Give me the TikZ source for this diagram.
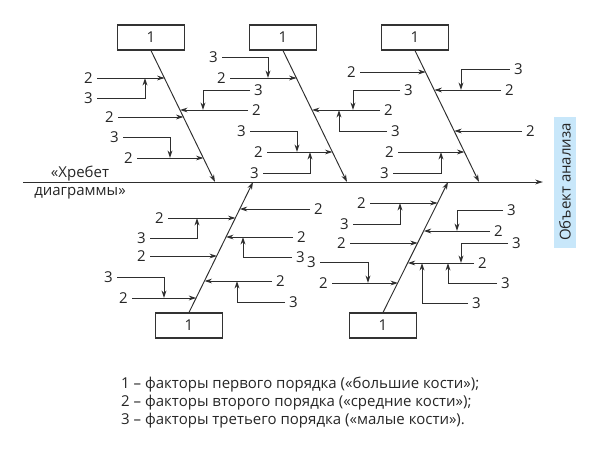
\documentclass[tikz,border=0pt]{standalone}
\usepackage{fontspec}
\setmainfont{Open Sans}
\usetikzlibrary{arrows.meta}
\definecolor{objblue}{RGB}{200,231,250}
\tikzset{
  ln/.style={line width=0.95pt, draw=black!82},
  arr/.style={ln, -{Stealth[length=7.5pt,width=4.8pt]}},
  num/.style={font=\fontsize{15}{18}\selectfont, text=black!85, inner xsep=4pt, inner ysep=0pt},
  bonebox/.style={draw=black!80, line width=1.1pt, minimum width=67pt, minimum height=25pt, inner sep=0pt, font=\fontsize{15}{18}\selectfont, text=black!85},
  txt/.style={font=\fontsize{15}{18}\selectfont, text=black!85, inner sep=0pt}
}
\begin{document}
\begin{tikzpicture}[x=1pt,y=-1pt]
\useasboundingbox (0,0) rectangle (599,452);

% object of analysis
\node[fill=objblue, rotate=90, minimum width=131pt, minimum height=22pt, inner sep=0pt, txt] (obj) at (565,182) {Объект анализа};

% spine
\coordinate (sp0) at (23,182);
\draw[arr, shorten >=11pt] (sp0) -- (obj);
\node[txt, anchor=base] (hr1) at (80,177) {«Хребет};
\node[txt, anchor=base] (hr2) at (80,195) {диаграммы»};

% big bones
\node[bonebox] (k1) at (151,37.5) {1};
\node[bonebox] (k2) at (283,37.5) {1};
\node[bonebox] (k3) at (415,37.5) {1};
\node[bonebox] (k4) at (189,325.5) {1};
\node[bonebox] (k5) at (383,325.5) {1};
\coordinate (s1) at (215,182);
\coordinate (s2) at (347,182);
\coordinate (s3) at (479,182);
\coordinate (s4) at (253,182);
\coordinate (s5) at (448,182);
\draw[arr] (k1.south) -- (s1);
\draw[arr] (k2.south) -- (s2);
\draw[arr] (k3.south) -- (s3);
\draw[arr] (k4.north) -- (s4);
\draw[arr] (k5.north) -- (s5);

% ---------- bone 1 (top left)
\node[num, anchor=east] (a1) at (97,78) {2};
\coordinate (a1e) at (164.6,78);
\draw[arr] (a1) -- (a1e);
\node[num, anchor=east] (a1s) at (97,98) {3};
\coordinate (a1c) at (145,78);
\draw[arr] (a1s) -| (a1c);
\node[num, anchor=east] (a2) at (118,117) {2};
\coordinate (a2e) at (183.5,117);
\draw[arr] (a2) -- (a2e);
\node[num, anchor=east] (a3) at (137,158) {2};
\coordinate (a3e) at (203.4,158);
\draw[arr] (a3) -- (a3e);
\node[num, anchor=east] (a3s) at (123,137) {3};
\coordinate (a3c) at (170,158);
\draw[arr] (a3s) -| (a3c);
\node[num, anchor=west] (a4) at (248,110) {2};
\coordinate (a4e) at (180.1,110);
\draw[arr] (a4) -- (a4e);
\node[num, anchor=west] (a4s) at (250,90) {3};
\coordinate (a4c) at (203,110);
\draw[arr] (a4s) -| (a4c);

% ---------- bone 2 (top middle)
\node[num, anchor=east] (b1) at (230,78) {2};
\coordinate (b1e) at (296.6,78);
\draw[arr] (b1) -- (b1e);
\node[num, anchor=east] (b1s) at (222,57) {3};
\coordinate (b1c) at (268,78);
\draw[arr] (b1s) -| (b1c);
\node[num, anchor=east] (b2) at (267,152) {2};
\coordinate (b2e) at (332.4,152);
\draw[arr] (b2) -- (b2e);
\node[num, anchor=east] (b2s) at (250,131) {3};
\coordinate (b2c) at (297,152);
\draw[arr] (b2s) -| (b2c);
\node[num, anchor=east] (b2t) at (263,173) {3};
\coordinate (b2d) at (310,152);
\draw[arr] (b2t) -| (b2d);
\node[num, anchor=west] (b3) at (380,110) {2};
\coordinate (b3e) at (312.1,110);
\draw[arr] (b3) -- (b3e);
\node[num, anchor=west] (b3s) at (400,90) {3};
\coordinate (b3c) at (353,110);
\draw[arr] (b3s) -| (b3c);
\node[num, anchor=west] (b3t) at (387,131) {3};
\coordinate (b3d) at (339,110);
\draw[arr] (b3t) -| (b3d);

% ---------- bone 3 (top right)
\node[num, anchor=east] (c1) at (360,72) {2};
\coordinate (c1e) at (425.7,72);
\draw[arr] (c1) -- (c1e);
\node[num, anchor=west] (c2) at (501,90) {2};
\coordinate (c2e) at (434.4,90);
\draw[arr] (c2) -- (c2e);
\node[num, anchor=west] (c2s) at (510,69) {3};
\coordinate (c2c) at (461,90);
\draw[arr] (c2s) -| (c2c);
\node[num, anchor=west] (c3) at (522,131) {2};
\coordinate (c3e) at (454.3,131);
\draw[arr] (c3) -- (c3e);
\node[num, anchor=east] (c4) at (398,152) {2};
\coordinate (c4e) at (464.5,152);
\draw[arr] (c4) -- (c4e);
\node[num, anchor=east] (c4s) at (393,173) {3};
\coordinate (c4c) at (441,152);
\draw[arr] (c4s) -| (c4c);

% ---------- bone 4 (bottom left)
\node[num, anchor=west] (d1) at (310,209) {2};
\coordinate (d1e) at (239.8,209);
\draw[arr] (d1) -- (d1e);
\node[num, anchor=east] (d2) at (168,218) {2};
\coordinate (d2e) at (235.4,218);
\draw[arr] (d2) -- (d2e);
\node[num, anchor=east] (d2s) at (150,238) {3};
\coordinate (d2c) at (197,218);
\draw[arr] (d2s) -| (d2c);
\node[num, anchor=west] (d3) at (293,237) {2};
\coordinate (d3e) at (226.1,237);
\draw[arr] (d3) -- (d3e);
\node[num, anchor=west] (d3s) at (292,257) {3};
\coordinate (d3c) at (243,237);
\draw[arr] (d3s) -| (d3c);
\node[num, anchor=east] (d4) at (150,256) {2};
\coordinate (d4e) at (216.9,256);
\draw[arr] (d4) -- (d4e);
\node[num, anchor=west] (d5) at (272,281) {2};
\coordinate (d5e) at (204.6,281);
\draw[arr] (d5) -- (d5e);
\node[num, anchor=west] (d5s) at (285,302) {3};
\coordinate (d5c) at (237,281);
\draw[arr] (d5s) -| (d5c);
\node[num, anchor=east] (d6) at (132,298) {2};
\coordinate (d6e) at (196.3,298);
\draw[arr] (d6) -- (d6e);
\node[num, anchor=east] (d6s) at (117,277) {3};
\coordinate (d6c) at (164,298);
\draw[arr] (d6s) -| (d6c);

% ---------- bone 5 (bottom right)
\node[num, anchor=east] (e1) at (370,203) {2};
\coordinate (e1e) at (437.6,203);
\draw[arr] (e1) -- (e1e);
\node[num, anchor=east] (e1s) at (353,224) {3};
\coordinate (e1c) at (400,203);
\draw[arr] (e1s) -| (e1c);
\node[num, anchor=west] (e2) at (490,231) {2};
\coordinate (e2e) at (423.7,231);
\draw[arr] (e2) -- (e2e);
\node[num, anchor=west] (e2s) at (503,210) {3};
\coordinate (e2c) at (457,231);
\draw[arr] (e2s) -| (e2c);
\node[num, anchor=east] (e3) at (350,243) {2};
\coordinate (e3e) at (417.7,243);
\draw[arr] (e3) -- (e3e);
\node[num, anchor=west] (e4) at (474,263) {2};
\coordinate (e4e) at (407.8,263);
\draw[arr] (e4) -- (e4e);
\node[num, anchor=west] (e4s) at (508,243) {3};
\coordinate (e4c) at (461,263);
\draw[arr] (e4s) -| (e4c);
\node[num, anchor=west] (e4t) at (497,283) {3};
\coordinate (e4d) at (448,263);
\draw[arr] (e4t) -| (e4d);
\node[num, anchor=west] (e4u) at (468,303) {3};
\coordinate (e4f) at (422,263);
\draw[arr] (e4u) -| (e4f);
\node[num, anchor=east] (e5) at (332,283) {2};
\coordinate (e5e) at (397.9,283);
\draw[arr] (e5) -- (e5e);
\node[num, anchor=east] (e5s) at (320,262) {3};
\coordinate (e5c) at (368,283);
\draw[arr] (e5s) -| (e5c);

% legend
\node[txt, anchor=base west] (leg1) at (121,388) {1 – факторы первого порядка («большие кости»);};
\node[txt, anchor=base west] (leg2) at (121,406) {2 – факторы второго порядка («средние кости»);};
\node[txt, anchor=base west] (leg3) at (121,424) {3 – факторы третьего порядка («малые кости»).};
\end{tikzpicture}
\end{document}
